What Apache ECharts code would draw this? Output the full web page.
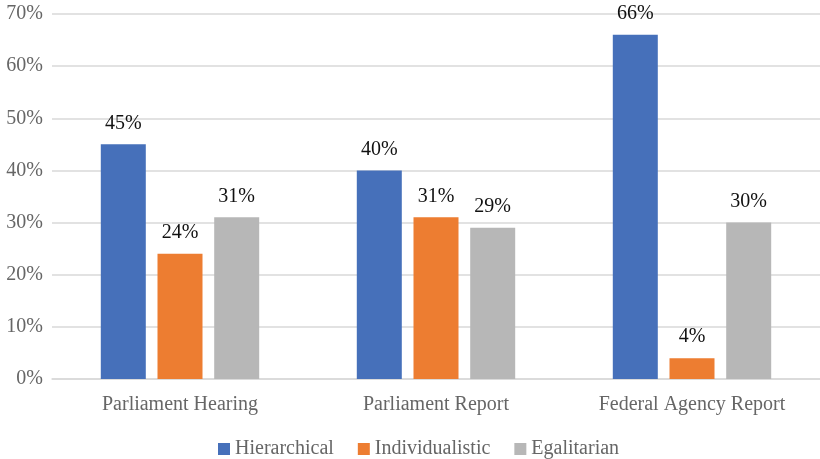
<!DOCTYPE html>
<html>
<head>
<meta charset="utf-8">
<script src="https://cdn.jsdelivr.net/npm/echarts@6/dist/echarts.min.js"></script>
<style>
  html, body { margin: 0; padding: 0; background: #fff; }
  #chart { width: 820px; height: 459px; }
</style>
</head>
<body>
<div id="chart"></div>
<script>
const categories = ['Parliament Hearing', 'Parliament Report', 'Federal Agency Report'];
const hierarchical = [45, 40, 66];
const individualistic = [24, 31, 4];
const egalitarian = [31, 29, 30];
const yTicks = [0, 10, 20, 30, 40, 50, 60, 70];

const FONT = '"Liberation Serif", "Times New Roman", serif';

function barSeries(name, data, color) {
  return {
    name: name,
    type: 'bar',
    data: data,
    barWidth: 45,
    barGap: '26%',
    itemStyle: { color: color },
    label: {
      show: true,
      position: 'top',
      distance: 11,
      formatter: '{c}%',
      color: '#111',
      fontFamily: FONT,
      fontSize: 20
    }
  };
}

const chart = echarts.init(document.getElementById('chart'));
chart.setOption({
  animation: false,
  grid: { left: 52, right: -1, top: 14, bottom: 80 },
  legend: {
    top: 439,
    left: 218,
    padding: 0,
    itemWidth: 12,
    itemHeight: 12,
    itemGap: 24,
    icon: 'rect',
    textStyle: { fontFamily: FONT, fontSize: 20, color: '#666' },
    data: ['Hierarchical', 'Individualistic', 'Egalitarian']
  },
  xAxis: {
    type: 'category',
    data: categories,
    axisTick: { show: false },
    axisLine: { lineStyle: { color: '#D9D9D9', width: 1.5 } },
    axisLabel: { fontFamily: FONT, fontSize: 20, color: '#666', margin: 16 }
  },
  yAxis: {
    type: 'value',
    min: yTicks[0],
    max: yTicks[yTicks.length - 1],
    interval: 10,
    axisLine: { show: false },
    axisTick: { show: false },
    splitLine: { lineStyle: { color: '#D9D9D9', width: 1.5 } },
    axisLabel: { fontFamily: FONT, fontSize: 20, color: '#666', margin: 9, formatter: '{value}%' }
  },
  series: [
    barSeries('Hierarchical', hierarchical, '#4670BA'),
    barSeries('Individualistic', individualistic, '#ED7D31'),
    barSeries('Egalitarian', egalitarian, '#B7B7B7')
  ]
});
</script>
</body>
</html>
